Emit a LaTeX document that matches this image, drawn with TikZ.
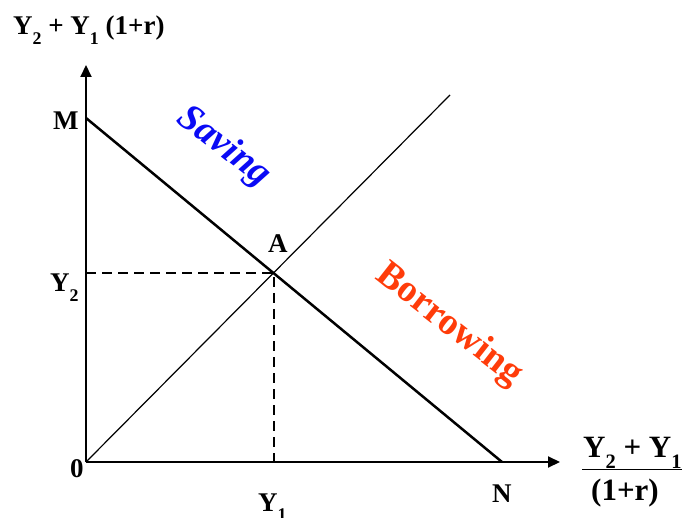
\documentclass[tikz,border=0pt]{standalone}
\usepackage{fontspec}
\usepackage{graphicx}
\setmainfont{Liberation Serif}
\usetikzlibrary{arrows.meta}
\definecolor{savblue}{RGB}{10,10,245}
\definecolor{borred}{RGB}{255,60,10}
\newcommand{\ysub}[1]{Y\raisebox{-0.36em}{\scalebox{0.66}{#1}}}

\begin{document}
\begin{tikzpicture}[x=1pt,y=-1pt,
  lab/.style={font=\fontsize{27}{30}\selectfont\bfseries,inner sep=0pt,anchor=base west},
  big/.style={font=\fontsize{31}{34}\selectfont\bfseries,inner sep=0pt},
  slant/.style={font=\fontsize{38}{40}\selectfont\bfseries,inner sep=0pt,rotate=-38},
  axis/.style={line width=2pt,-{Triangle[length=12pt,width=11pt]}},
  guide/.style={line width=2.4pt,dash pattern=on 10pt off 6pt}]
  \useasboundingbox (0,0) rectangle (682,518);
  % axes
  \coordinate (O) at (86,462);
  \coordinate (ytop) at (86,65);
  \coordinate (xend) at (560,462);
  \draw[axis] (O)--(ytop);
  \draw[axis] (O)--(xend);
  % budget line, 45 degree line, point A
  \coordinate (m) at (86,118);
  \coordinate (n) at (502,462);
  \coordinate (a) at (274,273);
  \coordinate (q) at (450,95);
  \draw[line width=2.5pt] (m)--(n);
  \draw[line width=1.2pt] (O)--(q);
  \draw[guide] (a -| O)--(a)--(a |- O);
  % labels
  \node[lab] (ylab) at (13,35) {\ysub{2} + \ysub{1} (1+r)};
  \node[lab] (mlab) at (53,130) {M};
  \node[lab] (y2lab) at (50,292) {\ysub{2}};
  \node[lab] (olab) at (70,477) {0};
  \node[lab] (alab) at (268,253) {A};
  \node[lab] (y1lab) at (258,511) {\ysub{1}};
  \node[lab] (nlab) at (492,502) {N};
  \node[big,anchor=base west] (num) at (583,457) {\ysub{2} + \ysub{1}};
  \node[big,anchor=base] (den) at (625,500) {(1+r)};
  \draw[line width=1pt] (582,469)--(682,469);
  \node[slant,text=savblue,font=\fontsize{38}{40}\selectfont\bfseries\itshape] (sav) at (224,147) {Saving};
  \node[slant,text=borred] (bor) at (449,325) {Borrowing};
\end{tikzpicture}
\end{document}
